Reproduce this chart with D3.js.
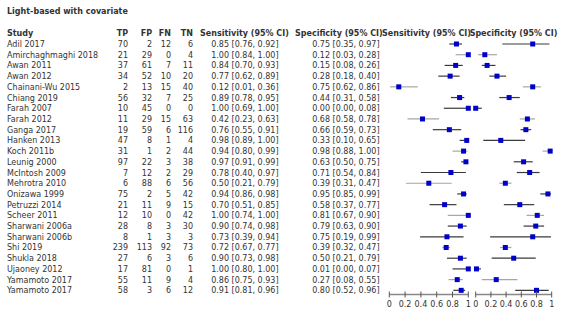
<!DOCTYPE html>
<html>
<head>
<meta charset="utf-8">
<script src="https://cdn.jsdelivr.net/npm/d3@7"></script>
<style>
  body { margin: 0; background: #fff; }
  text { font-family: "DejaVu Sans", Verdana, sans-serif; fill: #333; }
</style>
</head>
<body>
<div id="forest"></div>
<script>
// Study rows
const studies = ["Adil 2017", "Amirchaghmaghi 2018", "Awan 2011", "Awan 2012", "Chainani-Wu 2015",
    "Chiang 2019", "Farah 2007", "Farah 2012", "Ganga 2017", "Hanken 2013", "Koch 2011b",
    "Leunig 2000", "McIntosh 2009", "Mehrotra 2010", "Onizawa 1999", "Petruzzi 2014",
    "Scheer 2011", "Sharwani 2006a", "Sharwani 2006b", "Shi 2019", "Shukla 2018",
    "Ujaoney 2012", "Yamamoto 2017", "Yamamoto 2017"];
const tp = [70, 21, 37, 34, 2, 56, 10, 11, 19, 47, 31, 97, 7, 6, 75, 21, 12, 28, 8, 239, 27, 17, 55, 58];
const fp = [2, 29, 61, 52, 13, 32, 45, 29, 59, 8, 1, 22, 12, 88, 2, 11, 10, 8, 1, 113, 6, 81, 11, 3];
const fn = [12, 0, 7, 10, 15, 7, 0, 15, 6, 1, 2, 3, 2, 6, 5, 9, 0, 3, 3, 92, 3, 0, 9, 6];
const tn = [6, 4, 11, 20, 40, 25, 0, 63, 116, 4, 44, 38, 29, 56, 42, 15, 42, 30, 3, 73, 6, 1, 4, 12];
const sens = [0.85, 1.00, 0.84, 0.77, 0.12, 0.89, 1.00, 0.42, 0.76, 0.98, 0.94, 0.97, 0.78, 0.50, 0.94, 0.70, 1.00, 0.90, 0.73, 0.72, 0.90, 1.00, 0.86, 0.91];
const sensLo = [0.76, 0.84, 0.70, 0.62, 0.01, 0.78, 0.69, 0.23, 0.55, 0.89, 0.80, 0.91, 0.40, 0.21, 0.86, 0.51, 0.74, 0.74, 0.39, 0.67, 0.73, 0.80, 0.75, 0.81];
const sensHi = [0.92, 1.00, 0.93, 0.89, 0.36, 0.95, 1.00, 0.63, 0.91, 1.00, 0.99, 0.99, 0.97, 0.79, 0.98, 0.85, 1.00, 0.98, 0.94, 0.77, 0.98, 1.00, 0.93, 0.96];
const spec = [0.75, 0.12, 0.15, 0.28, 0.75, 0.44, 0.00, 0.68, 0.66, 0.33, 0.98, 0.63, 0.71, 0.39, 0.95, 0.58, 0.81, 0.79, 0.75, 0.39, 0.50, 0.01, 0.27, 0.80];
const specLo = [0.35, 0.03, 0.08, 0.18, 0.62, 0.31, 0.00, 0.58, 0.59, 0.10, 0.88, 0.50, 0.54, 0.31, 0.85, 0.37, 0.67, 0.63, 0.19, 0.32, 0.21, 0.00, 0.08, 0.52];
const specHi = [0.97, 0.28, 0.26, 0.40, 0.86, 0.58, 0.08, 0.78, 0.73, 0.65, 1.00, 0.75, 0.84, 0.47, 0.99, 0.77, 0.90, 0.90, 0.99, 0.47, 0.79, 0.07, 0.55, 0.96];
const axisTicks = [0, 0.2, 0.4, 0.6, 0.8, 1];

const width = 562, height = 312;
const fontSize = 8;
const rowTop = 44, rowStep = 10.71;

const svg = d3.select("#forest").append("svg")
    .attr("width", width)
    .attr("height", height)
    .style("font-size", fontSize + "px");

const rows = studies.map((s, i) => ({
    study: s, tp: tp[i], fp: fp[i], fn: fn[i], tn: tn[i],
    sens: sens[i], sensLo: sensLo[i], sensHi: sensHi[i],
    spec: spec[i], specLo: specLo[i], specHi: specHi[i], idx: i
}));

const y = d3.scaleLinear().domain([0, studies.length - 1]).range([rowTop, rowTop + rowStep * (studies.length - 1)]);
const xSens = d3.scaleLinear().domain([0, 1]).range([389.3, 468.3]);
const xSpec = d3.scaleLinear().domain([0, 1]).range([475.7, 551.7]);

// title and header
svg.append("text").attr("x", 7).attr("y", 14).attr("font-weight", "bold").text("Light-based with covariate");

const headerY = 36;
const header = [
    { t: "Study", x: 7, a: "start" },
    { t: "TP", x: 128, a: "end" },
    { t: "FP", x: 152, a: "end" },
    { t: "FN", x: 171, a: "end" },
    { t: "TN", x: 193, a: "end" },
    { t: "Sensitivity (95% CI)", x: 200, a: "start" },
    { t: "Specificity (95% CI)", x: 295, a: "start" },
    { t: "Sensitivity (95% CI)", x: 426.5, a: "middle" },
    { t: "Specificity (95% CI)", x: 513.5, a: "middle" }
];
svg.selectAll(".hdr").data(header).enter().append("text")
    .attr("class", "hdr")
    .attr("x", d => d.x).attr("y", headerY)
    .attr("text-anchor", d => d.a)
    .attr("font-weight", "bold")
    .text(d => d.t);

// table columns
const cols = [
    { key: "study", x: 7, a: "start", f: d => d.study },
    { key: "tp", x: 128, a: "end", f: d => d.tp },
    { key: "fp", x: 152, a: "end", f: d => d.fp },
    { key: "fn", x: 171, a: "end", f: d => d.fn },
    { key: "tn", x: 193, a: "end", f: d => d.tn },
    { key: "sens", x: 278.5, a: "end", f: d => `${d.sens.toFixed(2)} [${d.sensLo.toFixed(2)}, ${d.sensHi.toFixed(2)}]` },
    { key: "spec", x: 379.5, a: "end", f: d => `${d.spec.toFixed(2)} [${d.specLo.toFixed(2)}, ${d.specHi.toFixed(2)}]` }
];

const rowG = svg.selectAll(".row").data(rows).enter().append("g")
    .attr("class", "row")
    .attr("transform", d => `translate(0, ${y(d.idx)})`);

cols.forEach(c => {
    rowG.append("text")
        .attr("x", c.x).attr("y", 3)
        .attr("text-anchor", c.a)
        .text(c.f);
});

// CI lines + markers
const lineColor = d => d.idx % 3 === 1 ? "#a6a6a6" : "#3a3a3a";
const box = 5;
[[xSens, "sens"], [xSpec, "spec"]].forEach(([x, k]) => {
    rowG.append("line")
        .attr("x1", d => x(d[k + "Lo"])).attr("x2", d => x(d[k + "Hi"]))
        .attr("y1", 0).attr("y2", 0)
        .attr("stroke", lineColor)
        .attr("stroke-width", 1.2);
    rowG.append("rect")
        .attr("x", d => x(d[k]) - box / 2).attr("y", -box / 2)
        .attr("width", box).attr("height", box)
        .attr("fill", "#0000c8");
});

// axes
const axisY = 294.5;
[xSens, xSpec].forEach(x => {
    const ax = svg.append("g").attr("transform", `translate(0, ${axisY})`);
    ax.append("line")
        .attr("x1", x(0)).attr("x2", x(1))
        .attr("stroke", "#888").attr("stroke-width", 1.5);
    ax.selectAll(".tick").data(axisTicks).enter().append("line")
        .attr("x1", x).attr("x2", x)
        .attr("y1", -3).attr("y2", 3)
        .attr("stroke", "#555");
    ax.selectAll(".lbl").data(axisTicks).enter().append("text")
        .attr("x", x).attr("y", 12)
        .attr("text-anchor", "middle")
        .text(d => d);
});
</script>
</body>
</html>
